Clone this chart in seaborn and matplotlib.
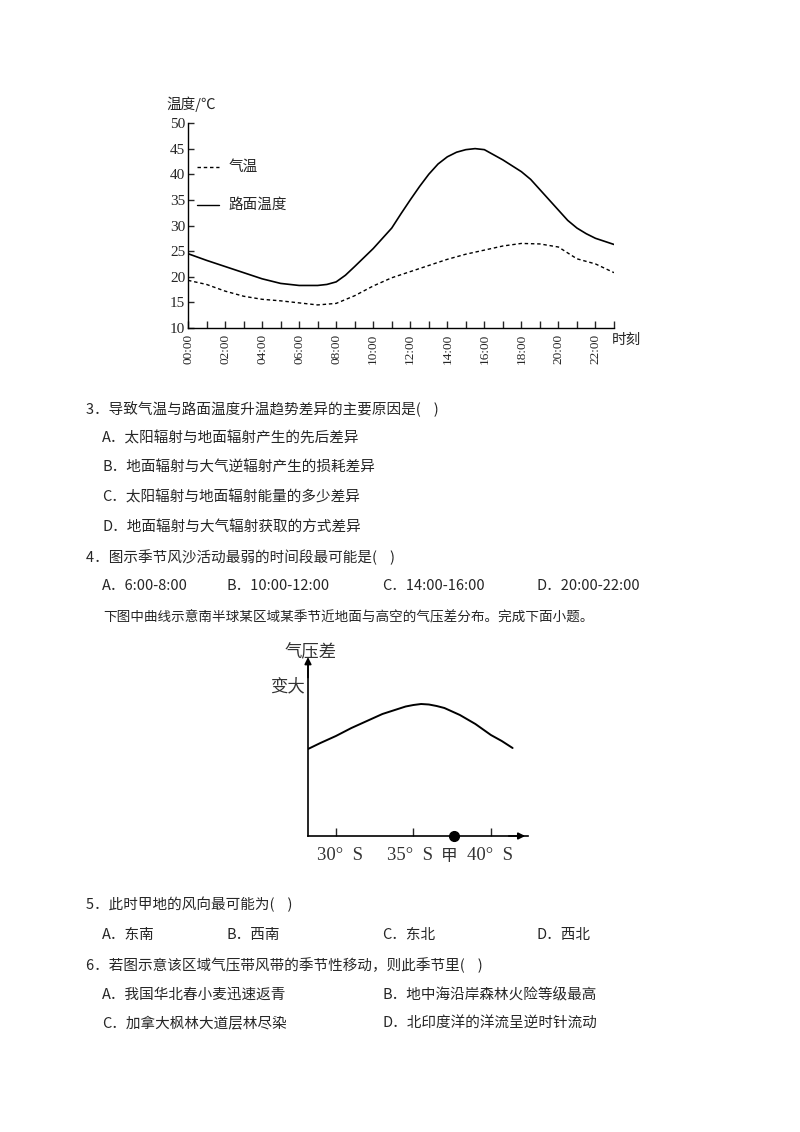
import matplotlib
matplotlib.use("Agg")
import matplotlib.pyplot as plt
import seaborn as sns
import pandas as pd
import numpy as np

sns.set_style("white")
plt.rcParams['font.family'] = ['Noto Sans CJK SC', 'DejaVu Sans']

# chart 1 data (read every hour, plus a few half hours near the bends)
road_hours = [0, 1, 2, 3, 4, 5, 6, 7, 7.5, 8, 8.5, 9, 10, 11, 11.5, 12, 12.5, 13, 13.5, 14,
              14.5, 15, 15.5, 16, 16.5, 17, 18, 18.5, 19, 19.5, 20, 20.5, 21, 21.5, 22, 23]
road_temp = [24.5, 23.2, 22.0, 20.8, 19.6, 18.7, 18.3, 18.3, 18.5, 19.0, 20.3, 22.0, 25.5, 29.5,
             32.3, 35.0, 37.6, 40.0, 42.0, 43.4, 44.3, 44.8, 45.0, 44.8, 43.8, 42.8, 40.5, 39.0,
             37.0, 35.0, 33.0, 31.0, 29.5, 28.4, 27.5, 26.3]
air_hours = list(range(24))
air_temp = [19.3, 18.5, 17.2, 16.2, 15.6, 15.3, 14.9, 14.5, 14.8, 16.3, 18.2, 19.8,
            21.0, 22.2, 23.4, 24.4, 25.2, 26.0, 26.5, 26.4, 25.8, 23.5, 22.5, 20.8]
hour_labels = ["%02d:00" % h for h in range(0, 24, 2)]

# chart 2 data
lat = [28.2, 29, 30, 31, 32, 33, 34, 34.5, 35, 35.5, 36, 36.5, 37, 38, 39, 40, 40.7, 41.4]
pdiff = [87, 93, 100, 108, 115, 122, 127, 129.5, 131, 132, 131.5, 130, 128, 121, 112, 101, 95, 88]
lat_ticks = [30, 35, 40]
jia_lat = 37.6

W, H = 800, 1132
fig = plt.figure(figsize=(8, 11.32), dpi=100)

def ax_rect(l, t, r, b):
    return [l / W, 1 - b / H, (r - l) / W, (b - t) / H]

# ---- top chart
ax = fig.add_axes(ax_rect(188, 123, 614, 328))
road = pd.DataFrame({"h": road_hours, "t": road_temp})
air = pd.DataFrame({"h": air_hours, "t": air_temp})
sns.lineplot(data=air, x="h", y="t", ax=ax, color="black", lw=1.0, linestyle=(0, (2.5, 2)))
sns.lineplot(data=road, x="h", y="t", ax=ax, color="black", lw=1.2)
ax.set_xlim(0, 23)
ax.set_ylim(10, 50)
ax.set_xticks(range(0, 24, 2))
ax.set_xticks(range(0, 24), minor=True)
ax.set_xticklabels(hour_labels, rotation=90, family='Liberation Serif', fontsize=9.5)
ax.set_yticks(range(10, 51, 5))
ax.set_yticklabels([str(v) for v in range(10, 51, 5)], family='Liberation Serif', fontsize=11)
ax.tick_params(axis='x', which='both', direction='in', length=5, width=1, pad=4, bottom=True)
ax.tick_params(axis='y', direction='in', length=4, width=1, pad=2, left=True)
ax.set_xlabel(""); ax.set_ylabel("")
for s in ["top", "right"]:
    ax.spines[s].set_visible(False)
for s in ["left", "bottom"]:
    ax.spines[s].set_color("black"); ax.spines[s].set_linewidth(1)
ax.plot([0.5, 1.7], [41.5, 41.5], color="black", lw=1.0, linestyle=(0, (2.5, 2)))
ax.text(2.2, 41.5, "气温", va="center", fontsize=10.5)
ax.plot([0.5, 1.7], [34, 34], color="black", lw=1.0)
ax.text(2.2, 34, "路面温度", va="center", fontsize=10.5)
fig.text(166 / W, 1 - 104 / H, "温度/℃", va="center", fontsize=10.5)
fig.text(612 / W, 1 - 340 / H, "时刻", va="center", fontsize=10.5)

# ---- bottom chart
ax2 = fig.add_axes(ax_rect(308, 663, 528, 836))
sns.lineplot(x=lat, y=pdiff, ax=ax2, color="black", lw=1.4)
x0 = 28.2
ax2.set_xlim(x0, x0 + (528 - 308) / 15.5)
ax2.set_ylim(0, 173)
ax2.set_xticks(lat_ticks)
ax2.set_xticklabels([])
ax2.set_yticks([])
ax2.tick_params(axis='x', direction='in', length=6, width=1, bottom=True)
for s in ["top", "right"]:
    ax2.spines[s].set_visible(False)
for s in ["left", "bottom"]:
    ax2.spines[s].set_color("black"); ax2.spines[s].set_linewidth(1.2)
ax2.plot([jia_lat], [0], "o", color="black", ms=7, clip_on=False)
ax2.annotate("", xy=(1.0, 0), xycoords="axes fraction", xytext=(0.9, 0),
             arrowprops=dict(arrowstyle="-|>", color="black", lw=1.2))
ax2.annotate("", xy=(0, 1.05), xycoords="axes fraction", xytext=(0, 0.9),
             arrowprops=dict(arrowstyle="-|>", color="black", lw=1.2))
for t, xp in [("30°  S", 340), ("35°  S", 410), ("40°  S", 490)]:
    fig.text(xp / W, 1 - 856 / H, t, ha="center", va="center", fontsize=13.5,
             color="#333333", family='Liberation Serif')
fig.text(449 / W, 1 - 856 / H, "甲", ha="center", va="center", fontsize=12, color="#333333")
fig.text(311 / W, 1 - 652 / H, "气压差", ha="center", va="center", fontsize=12.5, color="#333333")
fig.text(287 / W, 1 - 686 / H, "变大", ha="center", va="center", fontsize=12.5, color="#333333")

# ---- question text
lines = [
    (86, 409, "3．导致气温与路面温度升温趋势差异的主要原因是(    )"),
    (102, 438, "A．太阳辐射与地面辐射产生的先后差异"),
    (102, 468, "B．地面辐射与大气逆辐射产生的损耗差异"),
    (102, 497, "C．太阳辐射与地面辐射能量的多少差异"),
    (102, 527, "D．地面辐射与大气辐射获取的方式差异"),
    (86, 557, "4．图示季节风沙活动最弱的时间段最可能是(    )"),
    (102, 586, "A．6:00-8:00"), (227, 586, "B．10:00-12:00"),
    (382, 586, "C．14:00-16:00"), (537, 586, "D．20:00-22:00"),
    (86, 905, "5．此时甲地的风向最可能为(    )"),
    (102, 935, "A．东南"), (227, 935, "B．西南"), (382, 935, "C．东北"), (537, 935, "D．西北"),
    (86, 965, "6．若图示意该区域气压带风带的季节性移动，则此季节里(    )"),
    (102, 995, "A．我国华北春小麦迅速返青"), (382, 995, "B．地中海沿岸森林火险等级最高"),
    (102, 1024, "C．加拿大枫林大道层林尽染"), (382, 1024, "D．北印度洋的洋流呈逆时针流动"),
]
for x, y, t in lines:
    fig.text(x / W, 1 - y / H, t, va="center", fontsize=10.5)
fig.text(103 / W, 1 - 617 / H, "下图中曲线示意南半球某区域某季节近地面与高空的气压差分布。完成下面小题。",
         va="center", fontsize=9.8)

fig.savefig("out.png", dpi=100, facecolor="white")
